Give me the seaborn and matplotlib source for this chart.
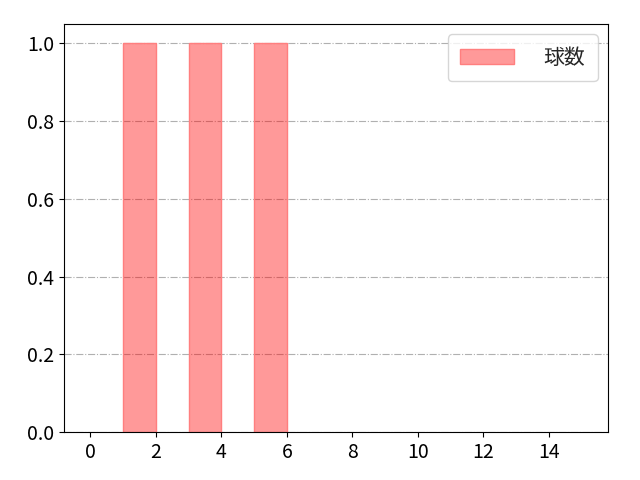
import matplotlib
matplotlib.use('Agg')
import matplotlib.pyplot as plt
import seaborn as sns
import pandas as pd
from matplotlib.patches import Patch

# pitch values observed (one each)
values = [1, 3, 5]
bin_edges = list(range(0, 16))
series_label = '球数'

sns.set_style('ticks')
plt.rcParams['font.family'] = ['Noto Sans CJK JP', 'DejaVu Sans']

df = pd.DataFrame({series_label: values})

fig, ax = plt.subplots(figsize=(6.4, 4.8), dpi=100)
sns.histplot(
    data=df, x=series_label, bins=bin_edges, ax=ax,
    color='red', alpha=0.4, edgecolor='#ff7f7f', linewidth=1.0,
)

# empty bins: no edge along the baseline
for p in ax.patches:
    if p.get_height() == 0:
        p.set_linewidth(0)

ax.set_xlim(-0.8, 15.8)
ax.set_ylim(0, 1.05)
ax.set_xticks(range(0, 15, 2))
ax.set_yticks([0.0, 0.2, 0.4, 0.6, 0.8, 1.0])
ax.set_yticklabels(['0.0', '0.2', '0.4', '0.6', '0.8', '1.0'])
ax.yaxis.grid(True, linestyle='-.', color='#b0b0b0', linewidth=0.8)
ax.set_axisbelow(True)
ax.set_xlabel('')
ax.set_ylabel('')
ax.tick_params(labelsize=14, colors='black')
for s in ax.spines.values():
    s.set_color('black')

leg_handle = Patch(facecolor=(1, 0, 0, 0.4), edgecolor='#ff7f7f', linewidth=1.0)
ax.legend([leg_handle], [series_label], loc='upper right', fontsize=15,
          handlelength=2.6, handletextpad=1.4, borderpad=0.6)

fig.subplots_adjust(left=0.1, right=0.95, top=0.95, bottom=0.1)
fig.savefig('out.png', dpi=100)
